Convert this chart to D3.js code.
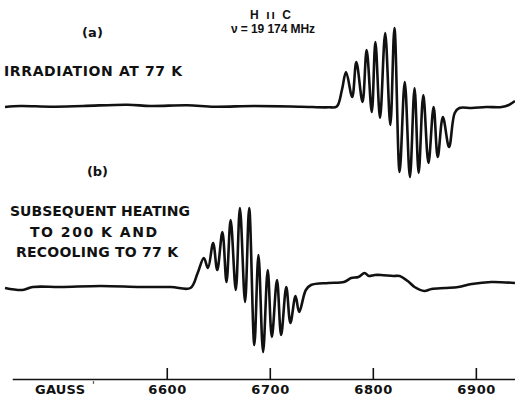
<!DOCTYPE html>
<html>
<head>
<meta charset="utf-8">
<script src="https://cdn.jsdelivr.net/npm/d3@7"></script>
<style>
  body { margin: 0; background: #fff; }
  text { font-family: "DejaVu Sans", sans-serif; font-weight: bold; fill: #111; }
</style>
</head>
<body>
<svg width="515" height="404"></svg>
<script>
// field (gauss) and derivative signal (arb. units, + is up)
var fieldA = [6443, 6458, 6487, 6519, 6562, 6584, 6620, 6646, 6685, 6730, 6757, 6765,
  6770, 6774, 6780, 6784, 6790, 6794, 6799, 6802.5, 6807, 6812, 6817, 6821,
  6826, 6831, 6836, 6840.5, 6844.5, 6849, 6854, 6859, 6863, 6868, 6874,
  6879.5, 6884, 6896, 6910, 6925, 6932, 6938];
var signalA = [-1, 0, -0.7, 0, 1.3, 0, 0.7, -0.7, 0, -0.7, -1.3, -0.5,
  16, 34, 9, 44, 4, 56, -6, 64, -12, 73, -19, 78,
  -66, 24, -71, 18, -67, 11, -57, -1, -51, -11, -41,
  -7, -2, -2, -1, -1, 1, 5];

var fieldB = [6443, 6460, 6470, 6497, 6536, 6575, 6604, 6623,
  6630, 6636, 6640, 6645, 6649, 6654, 6658, 6662, 6667, 6671, 6676, 6680,
  6685, 6689, 6693.5, 6698, 6702, 6707, 6711, 6716, 6720, 6725, 6728.5,
  6735, 6740, 6757, 6772, 6779, 6786, 6792, 6796, 6802, 6808, 6820, 6826,
  6835, 6840.5, 6850, 6857, 6870, 6883, 6896, 6915, 6938];
var signalB = [-1, -3, 0, 0, 1, 0, 0, -1,
  14, 29, 19, 44, 17, 55, 5, 67, -3, 79, -15, 79,
  -58, 32, -65, 17, -50, 7, -48, 0, -36, -9, -25,
  -3, 2, 4, 5, 9, 10, 14, 11, 12, 12, 11, 11,
  5, 0, -4, -2, -1, 0, 3, 5, 4];

var tickValues = [6600, 6700, 6800, 6900];
var axisName = "GAUSS";

var svg = d3.select("svg");

var x = d3.scaleLinear()
    .domain([6443, 6938])
    .range([5, 515]);

var yA = d3.scaleLinear()
    .domain([-100, 100])
    .range([206, 6]);
var yB = d3.scaleLinear()
    .domain([-100, 100])
    .range([387, 187]);

var lineA = d3.line()
    .x(function(d, i) { return x(fieldA[i]); })
    .y(function(d) { return yA(d); })
    .curve(d3.curveCatmullRom.alpha(0.5));
var lineB = d3.line()
    .x(function(d, i) { return x(fieldB[i]); })
    .y(function(d) { return yB(d); })
    .curve(d3.curveCatmullRom.alpha(0.5));

svg.append("path")
    .attr("fill", "none")
    .attr("stroke", "#111")
    .attr("stroke-width", 2.6)
    .attr("stroke-linejoin", "round")
    .attr("d", lineA(signalA));

svg.append("path")
    .attr("fill", "none")
    .attr("stroke", "#111")
    .attr("stroke-width", 2.6)
    .attr("stroke-linejoin", "round")
    .attr("d", lineB(signalB));

// field axis: ticks go up, labels sit below the line
var xAxisScale = x.copy().domain([6450, 6938]).range([x(6450), x(6938)]);
var gx = svg.append("g")
    .attr("transform", "translate(0,379)")
    .call(d3.axisBottom(xAxisScale)
      .tickValues(tickValues)
      .tickSizeInner(-11)
      .tickSizeOuter(0)
      .tickPadding(6)
      .tickFormat(d3.format("d")));
gx.select(".domain").attr("stroke", "#111").attr("stroke-width", 1.3);
gx.selectAll(".tick line").attr("stroke", "#111").attr("stroke-width", 1.6);
gx.selectAll(".tick text")
    .attr("fill", "#111")
    .style("font-family", "DejaVu Sans, sans-serif")
    .style("font-weight", "bold")
    .style("font-size", "13px")
    .attr("textLength", 38)
    .attr("lengthAdjust", "spacing");

svg.append("text")
    .attr("x", 35).attr("y", 394)
    .style("font-size", "13px")
    .attr("textLength", 50)
    .attr("lengthAdjust", "spacing")
    .text(axisName);
svg.append("text")
    .attr("x", 92).attr("y", 389)
    .style("font-size", "10px")
    .style("font-weight", "normal")
    .text("'");

// annotations
function label(t, xx, yy, len, size) {
  return svg.append("text")
    .attr("x", xx).attr("y", yy)
    .style("font-size", size + "px")
    .attr("textLength", len)
    .attr("lengthAdjust", "spacing")
    .text(t);
}

label("(a)", 82, 37, 21, 13);
label("H \u0131\u0131 C", 250, 19, 41, 12)
    .style("font-family", "Liberation Sans, sans-serif");
label("\u03bd = 19 174 MHz", 231, 33, 84, 12)
    .style("font-family", "Liberation Sans, sans-serif");
label("IRRADIATION AT 77 K", 4, 76, 178, 14);
label("(b)", 87, 176, 21, 13);
label("SUBSEQUENT HEATING", 10, 216, 180, 14);
label("TO 200 K  AND", 30, 237, 127, 14);
label("RECOOLING TO 77 K", 16, 257, 162, 14);
</script>
</body>
</html>
